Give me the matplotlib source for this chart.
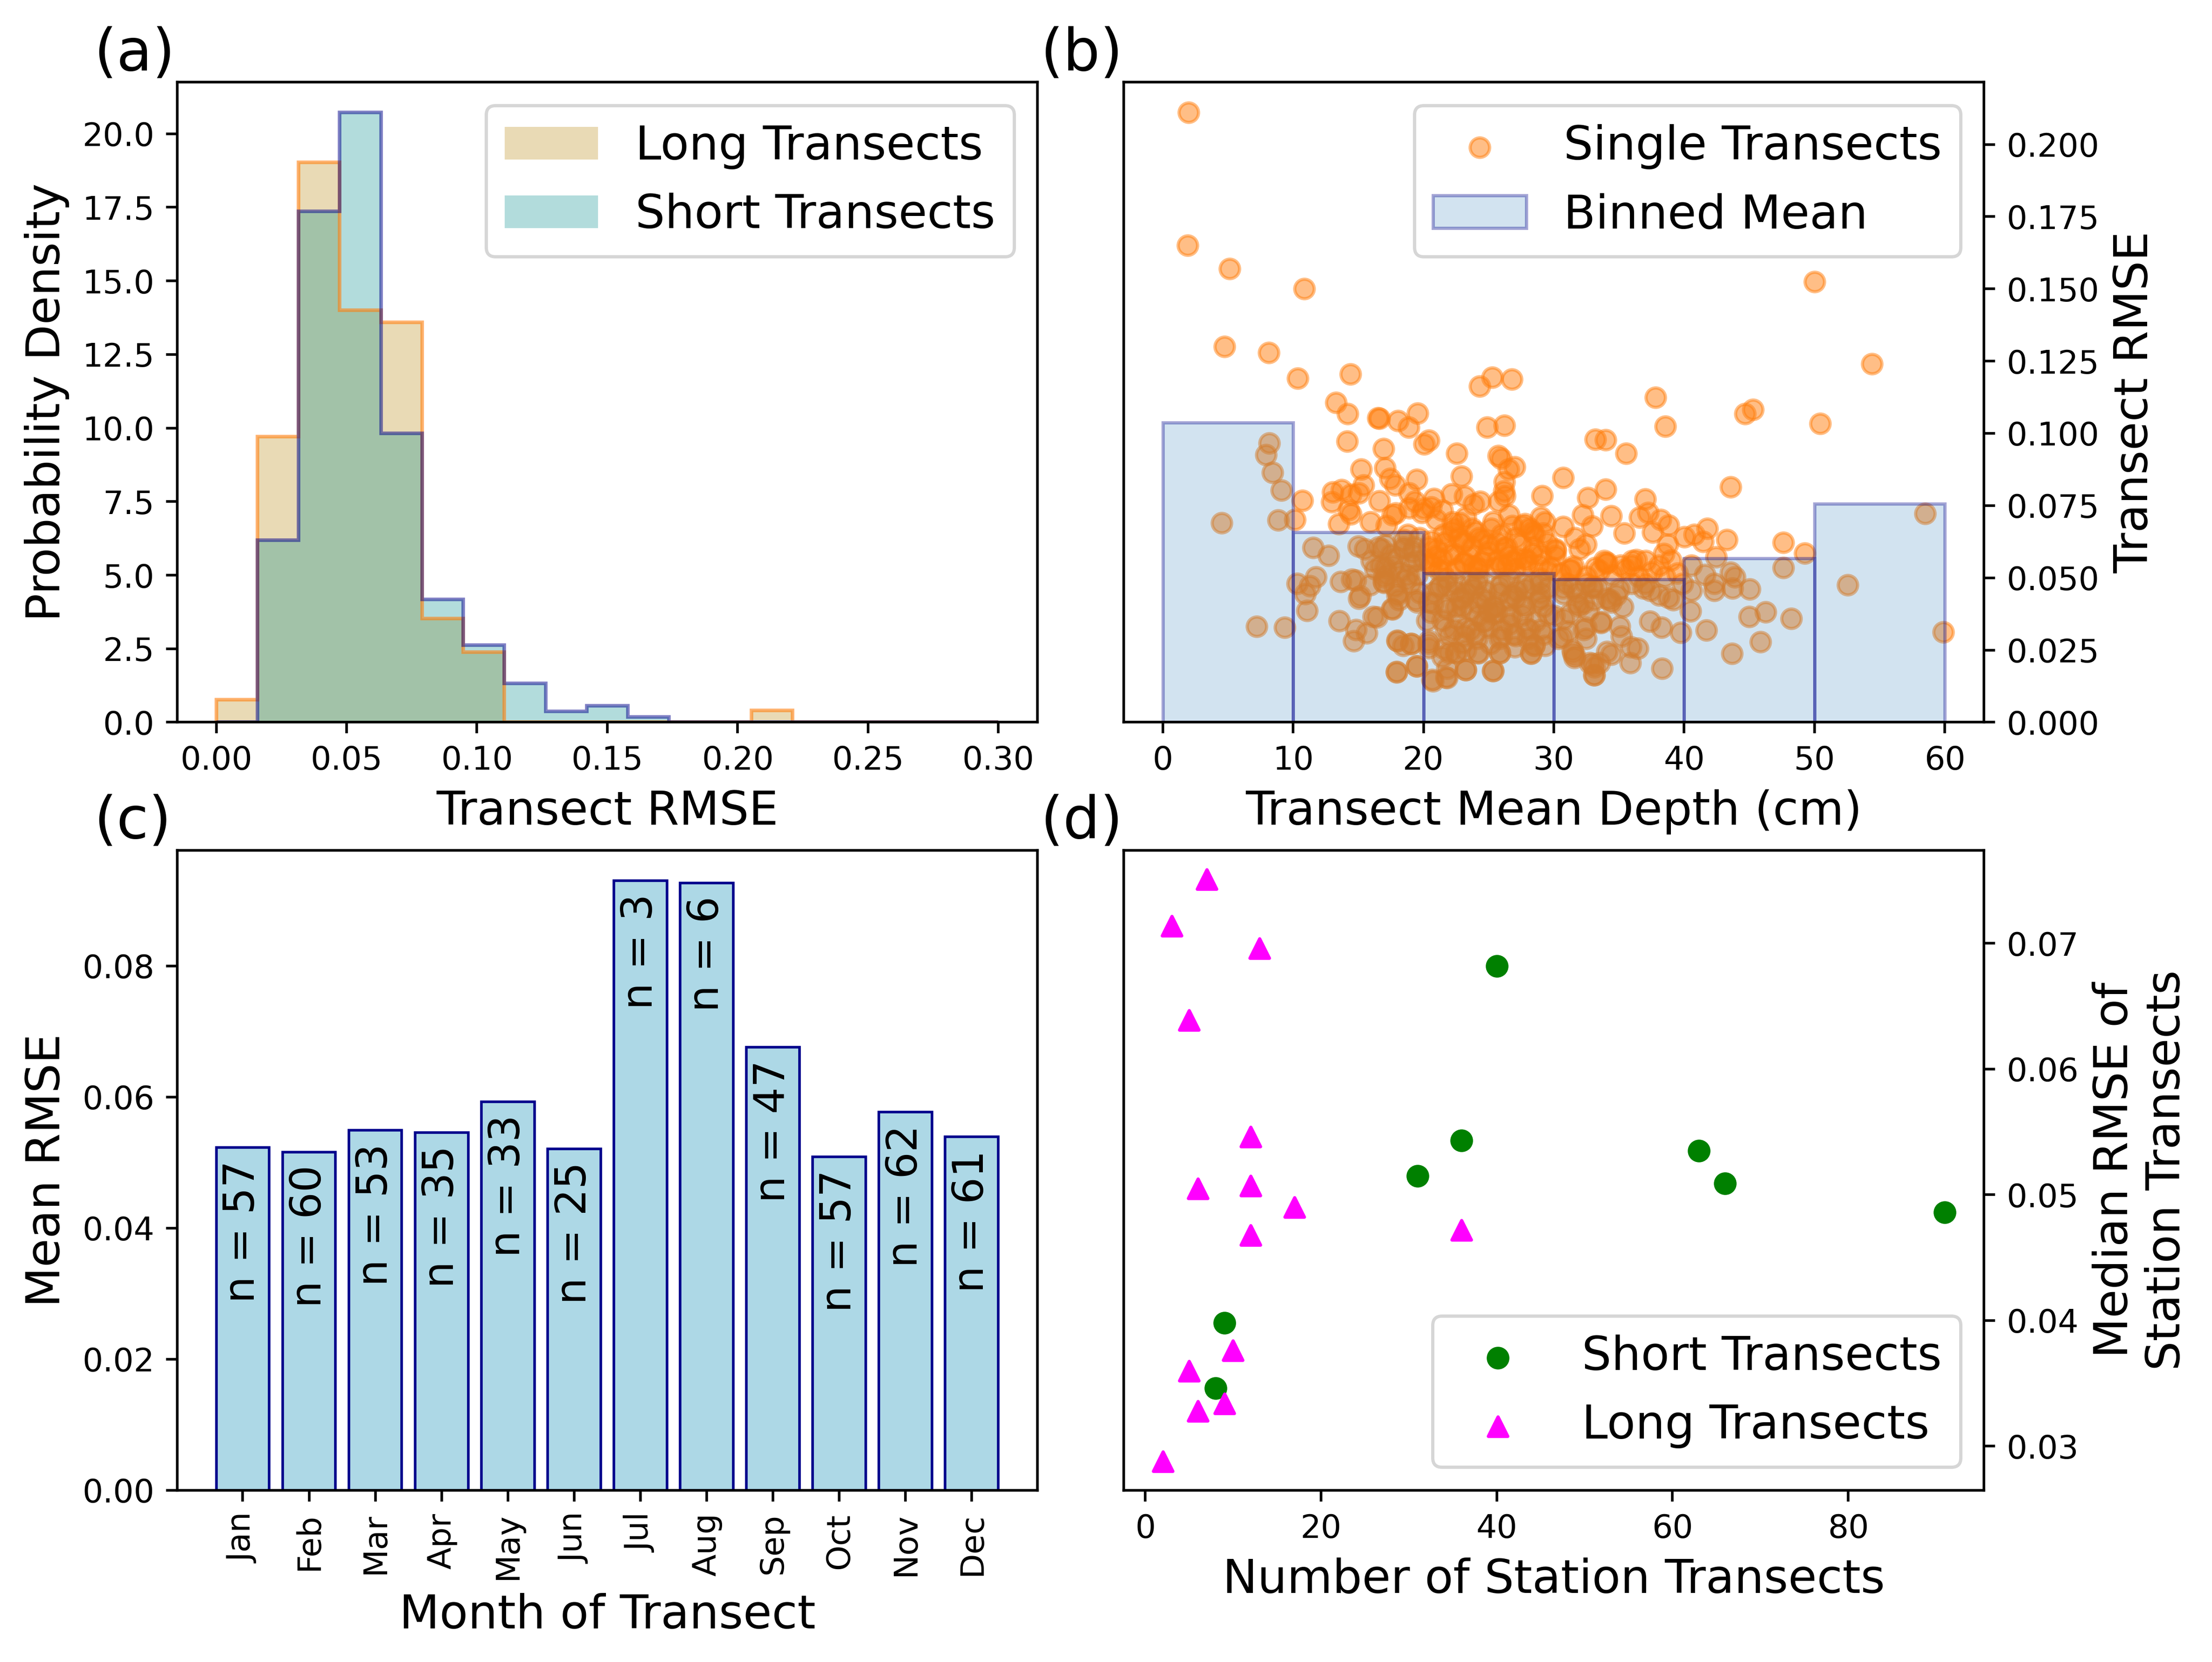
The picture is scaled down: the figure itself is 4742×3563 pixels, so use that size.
"""
plot.py
-------
Four-panel RMSE summary figure:
(a) RMSE histograms, (b) RMSE vs mean depth, (c) mean RMSE by month,
(d) median station RMSE vs number of station transects.
"""

import matplotlib
matplotlib.use("Agg")
import matplotlib.pyplot as plt
import matplotlib.colors as mcolors
import numpy as np

# ---------------------------------------------------------------------------
# Data
# ---------------------------------------------------------------------------
# (a) probability density per bin, 19 bins between 0 and 0.3
hist_edges = np.linspace(0, 0.3, 20)
long_density = [0.76, 9.71, 19.03, 14.0, 13.6, 3.52, 2.38, 0, 0, 0,
                0, 0, 0, 0.4, 0, 0, 0, 0, 0]
short_density = [0, 6.19, 17.37, 20.72, 9.82, 4.17, 2.63, 1.32, 0.37, 0.56,
                 0.18, 0, 0, 0, 0, 0, 0, 0, 0]

# (b) single transects: mean depth (cm) and RMSE
depth = [
    1.96, 1.92, 5.11, 10.86, 4.74, 8.12, 50.0, 54.4, 58.5, 59.9,
    10.36, 14.4, 24.3, 25.26, 26.79, 13.29, 14.17, 16.5, 16.6, 18.04,
    19.56, 18.88, 20.41, 20.06, 24.89, 26.2, 14.14, 16.95, 22.57, 25.73,
    25.94, 27.0, 26.52, 15.23, 17.03, 17.42, 17.83, 19.49, 22.9, 15.4,
    26.2, 26.17, 26.24, 29.1, 13.73, 13.03, 12.98, 14.43, 15.05, 10.71,
    16.63, 18.91, 20.81, 22.17, 23.18, 23.83, 24.36, 25.77, 14.26, 14.43,
    13.49, 15.93, 17.6, 18.91, 19.35, 19.88, 20.58, 21.46, 22.25, 23.22,
    25.33, 26.56, 27.79, 29.0, 10.13, 8.86, 4.51, 8.16, 7.93, 8.43,
    9.11,
    16.54, 17.07, 16.0, 16.72, 17.25, 17.95, 18.47, 19.0, 19.53, 18.65,
    19.7, 20.41, 20.93, 21.64, 22.34, 22.34, 23.04, 23.75, 24.27, 24.98,
    25.68, 26.38, 27.08, 27.79, 28.49, 29.19, 28.14, 24.1, 21.46, 25.68,
    26.38, 20.58, 22.69, 23.75, 28.84,
    20.41, 21.46, 22.34, 20.41, 20.41, 21.99, 22.5, 21.81, 21.72, 20.67,
    23.22, 24.18, 25.33, 25.85, 28.23, 28.49, 23.22, 24.45, 25.5, 26.73,
    27.61, 29.0, 24.98, 25.85, 23.22, 24.1, 26.91, 28.14, 29.0, 22.52,
    21.29, 22.52, 24.1, 25.85, 27.61, 29.0, 19.71, 24.98, 27.08, 29.19,
    23.22, 21.46,
    11.54, 12.73, 15.01, 10.3, 11.76, 11.27, 10.92, 11.06, 13.64, 14.52,
    14.79, 15.05, 15.14, 15.89, 16.98, 16.98, 17.07, 17.6, 18.04, 18.12,
    19.53, 16.16, 13.52, 14.82, 15.66, 14.66, 18.0, 18.44, 19.06, 17.95,
    19.49, 7.2, 9.34,
    37.8, 38.56, 44.69, 45.27, 50.43, 33.18, 33.97, 35.55, 30.72, 33.97,
    32.62, 43.55, 37.0, 34.41, 36.57, 37.22, 38.19, 32.22, 32.92, 30.72,
    29.32, 35.41, 37.57, 38.8, 40.03, 40.77, 41.79, 41.44, 43.28, 47.59,
    49.26, 42.46, 38.72, 38.45, 38.98, 31.6, 32.48, 31.95, 30.11, 30.11,
    33.88, 36.34, 37.05, 35.11, 35.99, 38.1, 33.18, 31.25, 29.49, 40.56,
    41.61, 42.32, 43.55, 43.9, 43.72, 45.04, 47.59, 52.54, 42.32, 40.47,
    40.56, 39.86, 38.8, 38.1, 37.4, 39.16, 44.99, 46.23, 48.2, 41.7,
    39.73, 38.28, 37.36, 45.85, 43.67, 38.31, 35.87, 36.43, 35.9, 35.2,
    35.03, 33.62, 34.41, 33.5, 33.09, 32.97, 31.6, 31.43, 32.48, 32.48,
    32.65, 34.41, 35.29, 34.32, 30.37, 29.32, 30.02, 31.25, 31.78, 30.72,
    32.48, 33.36, 35.99, 36.87,
    27.65, 26.81, 28.36, 24.55, 23.12, 22.16, 20.97, 20.02, 17.87, 17.16,
    18.47, 20.61, 21.45, 23.12, 24.79, 26.22, 27.17, 28.36, 24.19, 25.98,
    20.02, 30.15, 34.09, 31.34, 29.8, 27.89,
    17.99, 19.06, 17.93, 19.48, 17.57, 16.44, 19.42, 17.99, 16.92, 17.63,
    18.82, 19.3, 16.8,
    20.73, 21.8, 23.24, 25.32, 24.19, 25.86, 28.24, 22.52, 20.37, 21.57,
    28.48, 27.05, 25.14, 23.12, 21.69, 20.26, 29.2, 27.89, 24.79, 23.59,
    25.98, 20.73, 21.8, 23.0, 24.19, 25.38, 26.57, 27.77, 28.96, 29.56,
    21.21, 22.4, 23.59, 24.79, 25.98, 27.17, 28.36, 29.56, 21.8, 24.19,
    26.57, 28.96, 23.0, 25.38, 26.57, 24.19,
    30.63, 31.46, 31.58, 33.13, 33.13, 32.77, 34.09, 33.61, 32.3, 31.1,
    30.75, 31.94, 33.13, 34.09, 31.46, 32.89, 30.75, 32.3,
    # saturated core of the cloud
    20.5, 21.0, 21.5, 22.0, 22.5, 23.0, 23.5, 24.0, 24.5, 25.0,
    25.5, 26.0, 26.5, 27.0, 27.5, 28.0, 28.5, 29.0, 29.5, 21.2,
    23.8, 26.8, 22.8, 25.2,
    30.5, 31.5, 32.5, 33.5, 34.5, 35.5, 36.5, 37.5, 38.5, 39.5,
    34.0, 36.0,
    15.5, 16.3, 17.5, 18.2, 19.2, 18.8,
    20.8, 21.8, 22.8, 23.8, 24.8, 25.8, 26.8, 27.8, 28.8, 20.6,
    21.6, 22.6, 23.6, 24.6, 25.6, 26.6, 27.6, 28.6, 22.0, 24.0,
    26.0, 28.0, 23.0, 27.0,
    31.0, 33.0, 35.0, 37.0, 31.8, 34.8,
    18.5, 19.5, 17.8, 19.0,
]
rmse = [
    0.211, 0.165, 0.157, 0.150, 0.130, 0.128, 0.1525, 0.124, 0.0723, 0.0312,
    0.1191, 0.1205, 0.1163, 0.1194, 0.1188, 0.1106, 0.1068, 0.1053, 0.1051, 0.1044,
    0.1070, 0.1021, 0.0976, 0.0963, 0.1021, 0.1028, 0.0973, 0.0947, 0.0930, 0.0922,
    0.0913, 0.0884, 0.0876, 0.0876, 0.0881, 0.0844, 0.0820, 0.0840, 0.0852, 0.0820,
    0.0832, 0.0800, 0.0784, 0.0783, 0.0804, 0.0796, 0.0762, 0.0789, 0.0794, 0.0768,
    0.0766, 0.0794, 0.0774, 0.0790, 0.0782, 0.0755, 0.0765, 0.0765, 0.0736, 0.0721,
    0.0686, 0.0694, 0.0717, 0.0741, 0.0765, 0.0725, 0.0745, 0.0733, 0.0694, 0.0710,
    0.0694, 0.0717, 0.0686, 0.0710, 0.0702, 0.0700, 0.0690, 0.0966, 0.0925, 0.0864,
    0.0803,
    0.0606, 0.0614, 0.0559, 0.0543, 0.0511, 0.0567, 0.0606, 0.0551, 0.0511, 0.0495,
    0.0638, 0.0606, 0.0575, 0.0622, 0.0670, 0.0583, 0.0551, 0.0606, 0.0638, 0.0591,
    0.0559, 0.0606, 0.0638, 0.0567, 0.0606, 0.0654, 0.0670, 0.0535, 0.0527, 0.0622,
    0.0543, 0.0543, 0.0638, 0.0670, 0.0543,
    0.0416, 0.0353, 0.0321, 0.0281, 0.0258, 0.0242, 0.0242, 0.0186, 0.0155, 0.0147,
    0.0182, 0.0242, 0.0178, 0.0242, 0.0238, 0.0266, 0.0448, 0.0432, 0.0400, 0.0369,
    0.0408, 0.0448, 0.0329, 0.0289, 0.0329, 0.0289, 0.0305, 0.0321, 0.0321, 0.0400,
    0.0472, 0.0480, 0.0480, 0.0448, 0.0480, 0.0480, 0.0448, 0.0385, 0.0432, 0.0400,
    0.0250, 0.0226,
    0.0604, 0.0577, 0.0610, 0.0480, 0.0502, 0.0472, 0.0444, 0.0386, 0.0486, 0.0495,
    0.0491, 0.0428, 0.0436, 0.0476, 0.0484, 0.0503, 0.0535, 0.0392, 0.0448, 0.0424,
    0.0416, 0.0365, 0.0351, 0.0321, 0.0309, 0.0281, 0.0281, 0.0265, 0.0272, 0.0174,
    0.0194, 0.0331, 0.0329,
    0.1125, 0.1024, 0.1068, 0.1083, 0.1034, 0.0979, 0.0977, 0.0930, 0.0846, 0.0806,
    0.0777, 0.0815, 0.0773, 0.0715, 0.0709, 0.0725, 0.0701, 0.0717, 0.0679, 0.0677,
    0.0693, 0.0654, 0.0658, 0.0682, 0.0642, 0.0650, 0.0671, 0.0626, 0.0632, 0.0622,
    0.0585, 0.0572, 0.0616, 0.0584, 0.0561, 0.0638, 0.0616, 0.0600, 0.0600, 0.0576,
    0.0559, 0.0562, 0.0559, 0.0543, 0.0543, 0.0543, 0.0535, 0.0527, 0.0527, 0.0543,
    0.0511, 0.0480, 0.0519, 0.0503, 0.0464, 0.0460, 0.0535, 0.0476, 0.0456, 0.0385,
    0.0456, 0.0480, 0.0432, 0.0440, 0.0456, 0.0424, 0.0366, 0.0382, 0.0359, 0.0319,
    0.0311, 0.0329, 0.0349, 0.0278, 0.0238, 0.0186, 0.0206, 0.0256, 0.0261, 0.0297,
    0.0331, 0.0345, 0.0234, 0.0206, 0.0163, 0.0202, 0.0230, 0.0250, 0.0290, 0.0329,
    0.0385, 0.0416, 0.0400, 0.0424, 0.0290, 0.0266, 0.0369, 0.0377, 0.0448, 0.0464,
    0.0480, 0.0464, 0.0480, 0.0464,
    0.0681, 0.0681, 0.0659, 0.0632, 0.0627, 0.0659, 0.0702, 0.0740, 0.0724, 0.0681,
    0.0632, 0.0627, 0.0563, 0.0552, 0.0574, 0.0605, 0.0568, 0.0584, 0.0530, 0.0541,
    0.0563, 0.0595, 0.0552, 0.0530, 0.0536, 0.0541,
    0.0283, 0.0272, 0.0175, 0.0194, 0.0393, 0.0364, 0.0423, 0.0439, 0.0487, 0.0541,
    0.0509, 0.0606, 0.0600,
    0.0143, 0.0154, 0.0181, 0.0178, 0.0240, 0.0240, 0.0240, 0.0240, 0.0272, 0.0256,
    0.0267, 0.0299, 0.0272, 0.0299, 0.0326, 0.0353, 0.0304, 0.0326, 0.0348, 0.0321,
    0.0321, 0.0412, 0.0391, 0.0401, 0.0412, 0.0401, 0.0423, 0.0401, 0.0428, 0.0374,
    0.0466, 0.0455, 0.0477, 0.0455, 0.0477, 0.0455, 0.0477, 0.0466, 0.0498, 0.0498,
    0.0498, 0.0498, 0.0428, 0.0374, 0.0369, 0.0369,
    0.0294, 0.0240, 0.0224, 0.0191, 0.0164, 0.0205, 0.0245, 0.0348, 0.0321, 0.0315,
    0.0358, 0.0401, 0.0423, 0.0428, 0.0466, 0.0466, 0.0444, 0.0412,
    # saturated core of the cloud
    0.0555, 0.0600, 0.0650, 0.0580, 0.0530, 0.0620, 0.0575, 0.0660, 0.0555, 0.0615,
    0.0535, 0.0650, 0.0575, 0.0530, 0.0615, 0.0560, 0.0650, 0.0580, 0.0620, 0.0525,
    0.0540, 0.0560, 0.0690, 0.0670,
    0.0515, 0.0540, 0.0505, 0.0525, 0.0510, 0.0530, 0.0505, 0.0520, 0.0505, 0.0515,
    0.0550, 0.0560,
    0.0600, 0.0530, 0.0580, 0.0520, 0.0590, 0.0650,
    0.0450, 0.0470, 0.0430, 0.0460, 0.0420, 0.0470, 0.0440, 0.0460, 0.0420, 0.0380,
    0.0400, 0.0360, 0.0390, 0.0350, 0.0380, 0.0340, 0.0370, 0.0350, 0.0300, 0.0310,
    0.0300, 0.0290, 0.0275, 0.0260,
    0.0480, 0.0470, 0.0460, 0.0480, 0.0410, 0.0440,
    0.0600, 0.0560, 0.0470, 0.0480,
]

# (b) binned mean RMSE for 10 cm depth bins
depth_bin_left = [0, 10, 20, 30, 40, 50]
depth_bin_mean = [0.1037, 0.0658, 0.0515, 0.0494, 0.0568, 0.0757]

# (c) mean RMSE per month and number of transects
months = ["Jan", "Feb", "Mar", "Apr", "May", "Jun",
          "Jul", "Aug", "Sep", "Oct", "Nov", "Dec"]
month_rmse = [0.0523, 0.0516, 0.0549, 0.0546, 0.0593, 0.0521,
              0.0930, 0.0926, 0.0676, 0.0509, 0.0577, 0.0539]
month_n = [57, 60, 53, 35, 33, 25, 3, 6, 47, 57, 62, 61]

# (d) stations: number of transects vs median RMSE
short_n = [40, 36, 31, 63, 66, 91, 9, 8]
short_med = [0.0682, 0.0543, 0.0515, 0.0535, 0.0509, 0.0486, 0.0398, 0.0346]
long_n = [7, 3, 13, 5, 12, 6, 12, 17, 12, 36, 10, 5, 6, 9, 2]
long_med = [0.0751, 0.0714, 0.0696, 0.0639, 0.0546, 0.0505, 0.0507, 0.0490,
            0.0468, 0.0472, 0.0376, 0.0360, 0.0328, 0.0334, 0.0288]

# ---------------------------------------------------------------------------
# Figure
# ---------------------------------------------------------------------------
LABEL_FS = 14.4
LEGEND_FS = 14.4
PANEL_FS = 18

fig, axes = plt.subplots(2, 2, figsize=(9.484, 7.126), dpi=500)
fig.subplots_adjust(left=0.0801, right=0.8969, bottom=0.1033, top=0.9506,
                    wspace=0.1003, hspace=0.1997)
ax_a, ax_b = axes[0]
ax_c, ax_d = axes[1]


def with_alpha(color, alpha):
    return mcolors.to_rgba(color, alpha)


# ---- (a) histograms ----
centers = (hist_edges[:-1] + hist_edges[1:]) / 2
ax_a.hist(centers, bins=hist_edges, weights=long_density, histtype="stepfilled",
          facecolor=with_alpha("darkgoldenrod", 0.3), edgecolor="none",
          label="Long Transects")
ax_a.hist(centers, bins=hist_edges, weights=long_density, histtype="step",
          edgecolor=with_alpha("C1", 0.6), linewidth=1.1)
ax_a.hist(centers, bins=hist_edges, weights=short_density, histtype="stepfilled",
          facecolor=with_alpha("darkcyan", 0.3), edgecolor="none",
          label="Short Transects")
ax_a.hist(centers, bins=hist_edges, weights=short_density, histtype="step",
          edgecolor=with_alpha("darkblue", 0.5), linewidth=1.1)
ax_a.set_xlabel("Transect RMSE", fontsize=LABEL_FS)
ax_a.set_ylabel("Probability Density", fontsize=LABEL_FS)
ax_a.legend(loc="upper right", fontsize=LEGEND_FS)

# ---- (b) RMSE vs depth ----
ax_b.scatter(depth, rmse, color="C1", alpha=0.5, label="Single Transects")
ax_b.bar(depth_bin_left, depth_bin_mean, width=10, align="edge",
         facecolor=with_alpha("C0", 0.2), edgecolor=with_alpha("darkblue", 0.35),
         linewidth=1.0, label="Binned Mean")
ax_b.yaxis.tick_right()
ax_b.yaxis.set_label_position("right")
ax_b.set_xlabel("Transect Mean Depth (cm)", fontsize=LABEL_FS)
ax_b.set_ylabel("Transect RMSE", fontsize=LABEL_FS)
ax_b.legend(loc="upper right", fontsize=LEGEND_FS)

# ---- (c) monthly mean RMSE ----
x = np.arange(len(months))
ax_c.bar(x, month_rmse, color="lightblue", edgecolor="darkblue", linewidth=0.8)
for xi, h, n in zip(x, month_rmse, month_n):
    ax_c.text(xi, h - 0.002, f"n = {n}", rotation=90, ha="center", va="top",
              fontsize=13)
ax_c.set_xticks(x)
ax_c.set_xticklabels(months, rotation=90)
ax_c.set_xlabel("Month of Transect", fontsize=LABEL_FS)
ax_c.set_ylabel("Mean RMSE", fontsize=LABEL_FS)

# ---- (d) station medians ----
ax_d.scatter(short_n, short_med, color="green", marker="o", label="Short Transects")
ax_d.scatter(long_n, long_med, color="magenta", marker="^", label="Long Transects")
ax_d.yaxis.tick_right()
ax_d.yaxis.set_label_position("right")
ax_d.set_xlabel("Number of Station Transects", fontsize=LABEL_FS)
ax_d.set_ylabel("Median RMSE of\nStation Transects", fontsize=LABEL_FS)
ax_d.legend(loc="lower right", fontsize=LEGEND_FS)

# panel letters
for ax, tag in zip([ax_a, ax_b, ax_c, ax_d], ["(a)", "(b)", "(c)", "(d)"]):
    ax.text(-0.097, 1.0, tag, transform=ax.transAxes, fontsize=PANEL_FS,
            ha="left", va="bottom")

fig.savefig("out.png", dpi=500)
